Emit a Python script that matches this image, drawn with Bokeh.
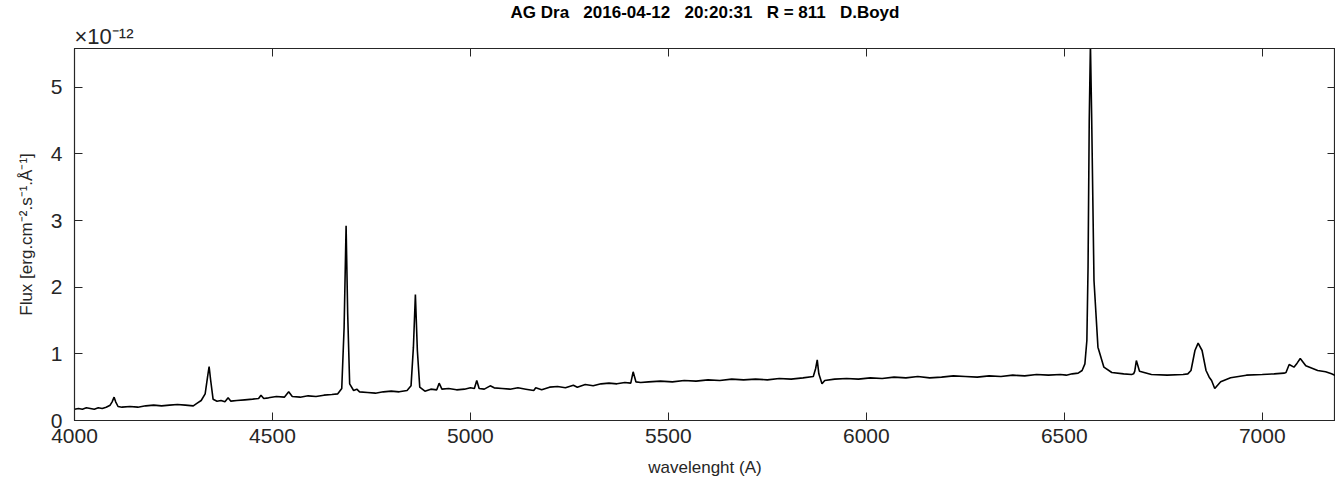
from bokeh.plotting import figure
from bokeh.models import LinearAxis, Range1d, FixedTicker, Title
from bokeh.embed import file_html
from bokeh.resources import INLINE

wavelength = [4000,4010,4020,4030,4040,4050,4060,4070,4080,4090,4095,4100,4104,4110,4120,4140,4160,4180,4200,4220,4240,4260,4280,4300,4310,4320,4330,4336,4340,4344,4350,4360,4370,4380,4388,4395,4410,4430,4450,4465,4471,4478,4490,4510,4530,4541,4550,4570,4590,4610,4630,4650,4665,4675,4681,4686,4690,4695,4705,4713,4720,4740,4760,4780,4800,4820,4840,4850,4856,4861,4866,4872,4885,4900,4915,4921,4928,4945,4965,4985,5000,5010,5016,5022,5035,5050,5060,5080,5100,5120,5140,5160,5165,5180,5200,5220,5240,5260,5270,5290,5310,5330,5350,5370,5390,5405,5411,5418,5430,5450,5480,5510,5540,5570,5600,5630,5660,5690,5720,5750,5780,5810,5840,5866,5872,5876,5880,5888,5895,5920,5950,5980,6010,6040,6070,6100,6130,6160,6190,6220,6250,6280,6310,6340,6370,6400,6430,6460,6490,6505,6520,6535,6545,6552,6557,6560,6563,6566,6569,6575,6585,6600,6620,6650,6670,6675,6678,6682,6690,6720,6760,6800,6812,6820,6825,6830,6838,6848,6858,6866,6872,6880,6895,6920,6960,7000,7030,7055,7060,7068,7080,7088,7096,7110,7140,7160,7175,7190]
flux = [0.17,0.18,0.17,0.19,0.18,0.17,0.19,0.18,0.20,0.23,0.28,0.35,0.28,0.21,0.20,0.21,0.20,0.22,0.23,0.22,0.23,0.24,0.23,0.22,0.26,0.30,0.40,0.65,0.81,0.60,0.32,0.29,0.30,0.28,0.34,0.29,0.30,0.31,0.32,0.33,0.38,0.33,0.34,0.36,0.35,0.43,0.36,0.35,0.37,0.36,0.38,0.39,0.40,0.48,1.40,2.92,1.60,0.55,0.45,0.47,0.43,0.42,0.41,0.43,0.44,0.43,0.45,0.52,1.10,1.89,1.05,0.50,0.44,0.47,0.46,0.56,0.47,0.48,0.46,0.47,0.49,0.48,0.60,0.48,0.47,0.52,0.49,0.48,0.47,0.49,0.47,0.45,0.49,0.46,0.50,0.51,0.49,0.53,0.50,0.54,0.52,0.55,0.56,0.55,0.57,0.56,0.73,0.58,0.57,0.58,0.59,0.58,0.60,0.59,0.61,0.60,0.62,0.61,0.62,0.61,0.63,0.62,0.64,0.66,0.78,0.91,0.70,0.55,0.60,0.62,0.63,0.62,0.64,0.63,0.65,0.64,0.66,0.64,0.65,0.67,0.66,0.65,0.67,0.66,0.68,0.67,0.69,0.68,0.69,0.68,0.70,0.71,0.75,0.85,1.20,2.30,4.50,5.65,4.60,2.10,1.10,0.80,0.72,0.70,0.69,0.70,0.74,0.90,0.74,0.69,0.68,0.69,0.70,0.75,0.90,1.05,1.16,1.05,0.75,0.65,0.60,0.48,0.58,0.64,0.68,0.69,0.70,0.71,0.72,0.84,0.80,0.86,0.93,0.82,0.75,0.73,0.70,0.66,0.58]

FONT = "Liberation Sans"
TXT = "#262626"
NB = "\u00a0\u00a0\u00a0"

p = figure(width=1335, height=489, output_backend="svg", toolbar_location=None,
           x_range=Range1d(4000, 7185), y_range=Range1d(0, 5.58),
           min_border_left=74, min_border_right=0, min_border_top=38, min_border_bottom=69)
p.grid.visible = False
p.outline_line_color = TXT
p.outline_line_width = 1.2
p.line(wavelength, flux, line_color="black", line_width=1.6)

for ax in p.xaxis:
    ax.ticker = FixedTicker(ticks=[4000,4500,5000,5500,6000,6500,7000])
    ax.axis_label = "wavelenght (A)"
for ax in p.yaxis:
    ax.ticker = FixedTicker(ticks=[0,1,2,3,4,5])
    ax.axis_label = "Flux [erg.cm⁻².s⁻¹.Å⁻¹]"
for ax in p.xaxis + p.yaxis:
    ax.major_tick_in = 8
    ax.major_tick_out = 0
    ax.minor_tick_line_color = None
    ax.axis_line_color = TXT
    ax.major_tick_line_color = TXT
    ax.major_label_text_font = FONT
    ax.major_label_text_font_size = "21px"
    ax.major_label_text_color = TXT
    ax.axis_label_text_font = FONT
    ax.axis_label_text_font_size = "17px"
    ax.axis_label_text_font_style = "normal"
    ax.axis_label_text_color = TXT
p.xaxis.axis_label_standoff = 12
p.xaxis.major_label_standoff = 8
p.yaxis.axis_label_standoff = 12
p.yaxis.major_label_standoff = 12

for side, ticks in (("above", [4000,4500,5000,5500,6000,6500,7000]), ("right", [0,1,2,3,4,5])):
    a = LinearAxis(ticker=FixedTicker(ticks=ticks), major_label_text_font_size="0px",
                   major_tick_in=8, major_tick_out=0, minor_tick_line_color=None,
                   axis_line_color=TXT, major_tick_line_color=TXT)
    p.add_layout(a, side)

p.add_layout(Title(text="×10⁻¹²", align="left", offset=0,
                   text_font=FONT, text_font_size="22px", text_font_style="normal", text_color=TXT,
                   standoff=0), "above")
p.add_layout(Title(text="AG Dra" + NB + "2016-04-12" + NB + "20:20:31" + NB + "R = 811" + NB + "D.Boyd",
                   align="center", text_font=FONT, text_font_size="17px", text_font_style="bold",
                   text_color="black", standoff=0), "above")

open("out.html", "w").write(file_html(p, INLINE))
